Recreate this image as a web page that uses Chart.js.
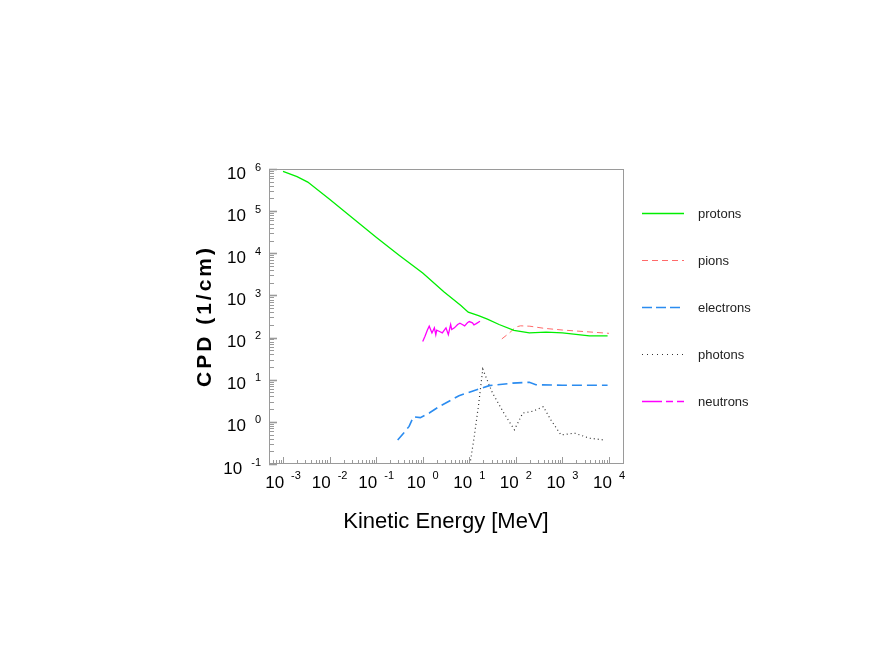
<!DOCTYPE html>
<html>
<head>
<meta charset="utf-8">
<script src="https://cdn.jsdelivr.net/npm/chart.js@4/dist/chart.umd.min.js"></script>
<style>
html,body{margin:0;padding:0;background:#fff;}
canvas{display:block;}
</style>
</head>
<body>
<canvas id="c" width="872" height="664"></canvas>
<script>
// ---- data (kinetic energy in MeV, CPD in 1/cm) ----
const protonE   = [0.001, 0.002, 0.0034, 0.01, 0.0316, 0.1, 0.316, 1.0, 2.88, 6.6, 9.5, 15.8, 24.5, 43.6, 91, 195, 447, 1000, 3800, 9330];
const protonCPD = [881000, 661000, 490000, 190500, 67600, 24000, 8900, 3390, 1200, 575, 400, 330, 275, 204, 148, 129, 135, 129, 110, 110];

const pionE   = [50, 71, 100, 126, 200, 400, 1000, 3160, 10000];
const pionCPD = [93, 126, 178, 190, 186, 166, 151, 138, 126];

const electronE   = [0.29, 0.40, 0.51, 0.63, 0.89, 1.38, 2.24, 6.0, 16.2, 26.9, 85, 195, 269, 1000, 9330];
const electronCPD = [0.37, 0.56, 0.78, 1.32, 1.26, 1.62, 2.29, 4.17, 6.03, 7.24, 8.3, 8.7, 7.6, 7.4, 7.4];

const photonE   = [10, 12.6, 15.8, 19.5, 25.1, 31.6, 56, 93, 141, 229, 389, 562, 933, 1820, 3800, 8130];
const photonCPD = [0.079, 0.40, 2.5, 17.8, 8.9, 4.8, 1.58, 0.65, 1.62, 1.78, 2.29, 1.12, 0.49, 0.54, 0.41, 0.37];

const neutronE   = [1.0, 1.12, 1.26, 1.38, 1.58, 1.78, 1.91, 2.0, 2.24, 2.63, 3.16, 3.55, 3.98, 4.2, 4.79, 5.62, 6.3, 7.08, 7.94, 9.12, 10.0, 11.7, 12.6, 14.1, 17.0];
const neutronCPD = [81, 107, 151, 186, 129, 170, 117, 150, 141, 129, 170, 117, 204, 155, 170, 204, 220, 204, 190, 224, 240, 224, 200, 214, 245];

const seriesNames = ['protons', 'pions', 'electrons', 'photons', 'neutrons'];
const xTickExponents = ['-3', '-2', '-1', '0', '1', '2', '3', '4'];
const yTickExponents = ['-1', '0', '1', '2', '3', '4', '5', '6'];
const xTitle = 'Kinetic Energy [MeV]';
const yTitle = 'CPD (1/cm)';

function pts(xs, ys){ return xs.map((x,i)=>({x:x, y:ys[i]})); }

const FONT = '"Liberation Sans", Arial, Helvetica, sans-serif';

const datasets = [
  {label: seriesNames[0], data: pts(protonE, protonCPD), borderColor:'#00ee00', borderWidth:1.3, legendDash:[]},
  {label: seriesNames[1], data: pts(pionE, pionCPD), borderColor:'#ff6a6a', borderWidth:1, borderDash:[6,4], legendDash:[6,4]},
  {label: seriesNames[2], data: pts(electronE, electronCPD), borderColor:'#2b8cf0', borderWidth:1.6, borderDash:[10,5], legendDash:[10,4]},
  {label: seriesNames[3], data: pts(photonE, photonCPD), borderColor:'#333333', borderWidth:1.2, borderDash:[1,3], legendDash:[1,4]},
  {label: seriesNames[4], data: pts(neutronE, neutronCPD), borderColor:'#ff00ff', borderWidth:1.3, legendDash:[20,4,7,4]}
].map(d => Object.assign({showLine:true, pointRadius:0, pointHoverRadius:0, fill:false, tension:0}, d));

const decoPlugin = {
  id: 'deco',
  afterDatasetsDraw(chart){
    const ctx = chart.ctx, a = chart.chartArea;
    const xs = chart.scales.x, ys = chart.scales.y;
    ctx.save();
    ctx.strokeStyle = '#9a9a9a';
    ctx.lineWidth = 1;
    ctx.strokeRect(Math.round(a.left)+0.5, Math.round(a.top)+0.5, Math.round(a.right-a.left), Math.round(a.bottom-a.top)-1);
    for (let e = -4; e <= 4; e++){
      for (let m = 1; m <= 9; m++){
        const v = m * Math.pow(10, e);
        if (v < xs.min*0.999 || v > xs.max*1.001) continue;
        const px = Math.round(xs.getPixelForValue(v)) + 0.5;
        const len = (m === 1) ? 7 : 4;
        ctx.lineWidth = 1;
        ctx.beginPath(); ctx.moveTo(px, a.bottom); ctx.lineTo(px, a.bottom - len); ctx.stroke();
      }
    }
    for (let e = -1; e <= 6; e++){
      for (let m = 1; m <= 9; m++){
        const v = m * Math.pow(10, e);
        if (v < ys.min*0.999 || v > ys.max*1.001) continue;
        const py = Math.round(ys.getPixelForValue(v)) + 0.5;
        const len = (m === 1) ? 8 : 5;
        ctx.lineWidth = (m === 1) ? 1.6 : 1;
        ctx.beginPath(); ctx.moveTo(a.left, py); ctx.lineTo(a.left + len, py); ctx.stroke();
      }
    }
    ctx.restore();
  },
  afterDraw(chart){
    const ctx = chart.ctx, a = chart.chartArea;
    const xs = chart.scales.x, ys = chart.scales.y;
    ctx.save();
    ctx.fillStyle = '#000';
    ctx.textBaseline = 'alphabetic';
    xTickExponents.forEach(ex => {
      const px = xs.getPixelForValue(Math.pow(10, Number(ex)));
      ctx.font = '17px ' + FONT;
      const w10 = ctx.measureText('10').width;
      ctx.font = '11px ' + FONT;
      const we = ctx.measureText(ex).width;
      const gap = 7;
      const total = w10 + gap + we;
      const x0 = px - total/2;
      ctx.textAlign = 'left';
      ctx.font = '17px ' + FONT;
      ctx.fillText('10', x0, 488);
      ctx.font = '11px ' + FONT;
      ctx.fillText(ex, x0 + w10 + gap, 479);
    });
    yTickExponents.forEach(ex => {
      const py = ys.getPixelForValue(Math.pow(10, Number(ex)));
      ctx.font = '11px ' + FONT;
      const we = ctx.measureText(ex).width;
      const right = 261;
      ctx.textAlign = 'left';
      ctx.fillText(ex, right - we, py + 1.5);
      ctx.font = '17px ' + FONT;
      ctx.textAlign = 'right';
      ctx.fillText('10', right - we - 9, py + 9.5);
    });
    ctx.textAlign = 'center';
    ctx.font = '22px ' + FONT;
    ctx.fillText(xTitle, (a.left + a.right)/2, 528);
    ctx.save();
    ctx.translate(211, 316);
    ctx.rotate(-Math.PI/2);
    ctx.font = 'bold 21px ' + FONT;
    try { ctx.letterSpacing = '3px'; } catch(e) {}
    ctx.fillText(yTitle, 0, 0);
    ctx.restore();
    chart.data.datasets.forEach((d, i) => {
      const y = 213 + i * 46.9;
      ctx.save();
      ctx.strokeStyle = d.borderColor;
      ctx.lineWidth = Math.max(1.2, d.borderWidth);
      ctx.setLineDash(d.legendDash || []);
      ctx.beginPath(); ctx.moveTo(642, Math.round(y)+0.5); ctx.lineTo(684, Math.round(y)+0.5); ctx.stroke();
      ctx.restore();
      ctx.font = '13px ' + FONT;
      ctx.fillStyle = '#222';
      ctx.textAlign = 'left';
      ctx.fillText(d.label, 698, y + 5);
    });
    ctx.restore();
  }
};

new Chart(document.getElementById('c'), {
  type: 'scatter',
  data: { datasets: datasets },
  options: {
    responsive: false,
    animation: false,
    devicePixelRatio: 1,
    layout: { padding: { left: 269, top: 169, right: 249, bottom: 200 } },
    plugins: { legend: { display: false }, tooltip: { enabled: false } },
    scales: {
      x: { type: 'logarithmic', min: 5e-4, max: 2e4, display: false },
      y: { type: 'logarithmic', min: 0.1, max: 1e6, display: false }
    }
  },
  plugins: [decoPlugin]
});
</script>
</body>
</html>
